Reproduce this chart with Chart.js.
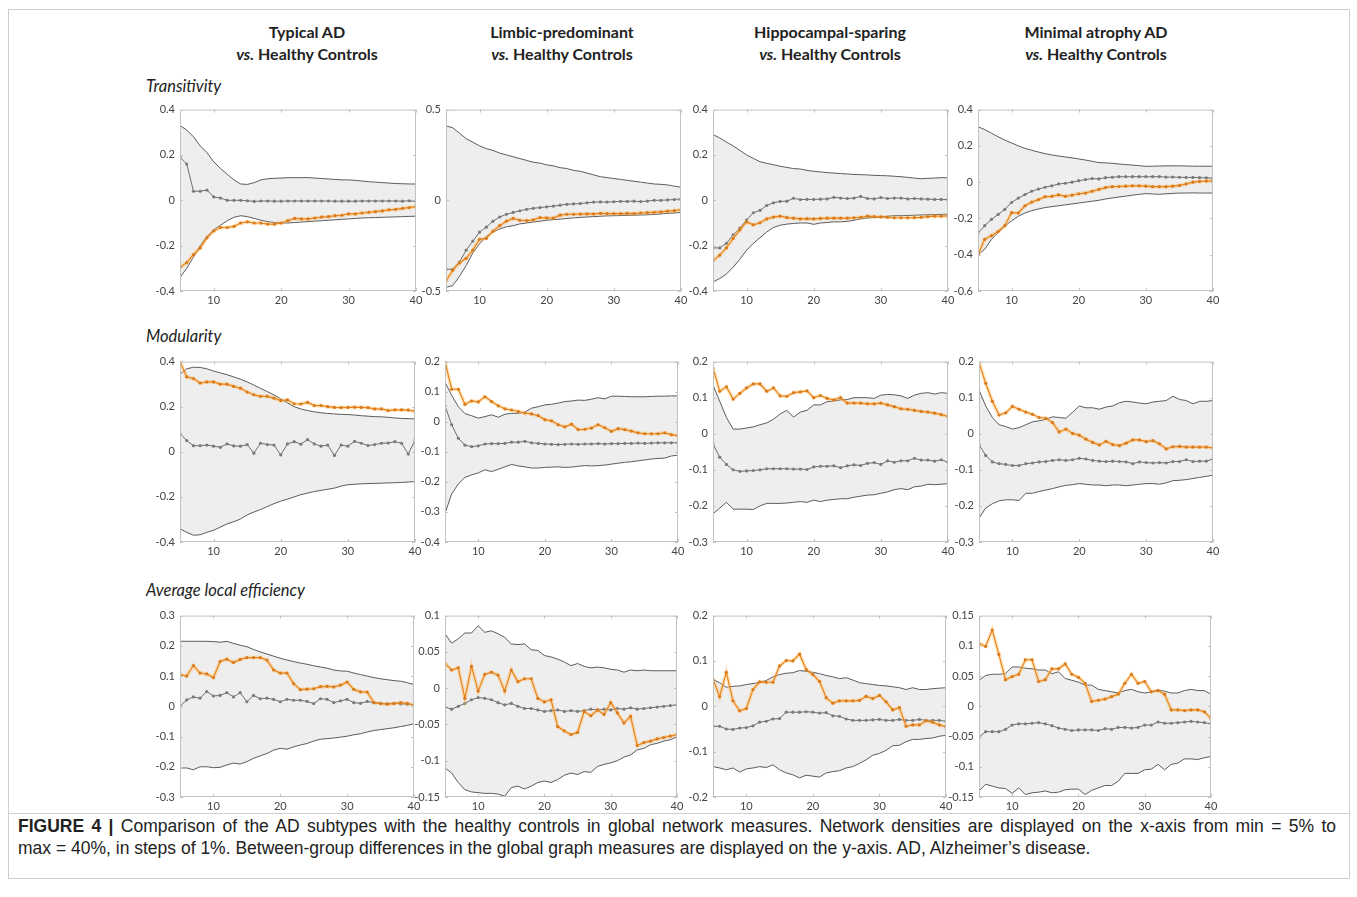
<!DOCTYPE html>
<html>
<head>
  <meta charset="UTF-8">
  <script src="https://cdn.jsdelivr.net/npm/chart.js@4.4.1/dist/chart.umd.min.js"></script>
  <style>
    body { margin: 0; background: #fff; }
    #page { position: relative; width: 1357px; height: 897px; overflow: hidden; }
    #border { position: absolute; left: 8px; top: 9px; width: 1340px; height: 868px; border: 1px solid #cfcfcf; }
    #sep { position: absolute; left: 8px; top: 813px; width: 1342px; height: 1px; background: #cfcfcf; }
    .head { position: absolute; width: 260px; text-align: center; font-family: Lato, sans-serif; font-weight: bold;
      font-size: 16px; line-height: 22px; color: #222; }
    .row { position: absolute; left: 146px; font-family: Lato, sans-serif; font-style: italic; font-size: 16.5px; color: #222; }
    canvas { position: absolute; }
    .cap { position: absolute; left: 18px; font-family: "Liberation Sans", Arial, sans-serif;
      font-size: 17.5px; line-height: 22px; color: #222; white-space: nowrap; }
    #cap1 { top: 815px; width: 1318px; text-align: justify; text-align-last: justify; }
    #cap2 { top: 837px; }
  </style>
</head>
<body>
<div id="page">
  <div id="border"></div>
  <div id="sep"></div>
  <div class="head" style="left:177px; top:21px">Typical AD<br><i>vs.</i> Healthy Controls</div>
  <div class="head" style="left:432px; top:21px">Limbic-predominant<br><i>vs.</i> Healthy Controls</div>
  <div class="head" style="left:700px; top:21px">Hippocampal-sparing<br><i>vs.</i> Healthy Controls</div>
  <div class="head" style="left:966px; top:21px">Minimal atrophy AD<br><i>vs.</i> Healthy Controls</div>
  <div class="row" style="top:76px">Transitivity</div>
  <div class="row" style="top:326px">Modularity</div>
  <div class="row" style="top:580px">Average local efficiency</div>
  <div class="cap" id="cap1"><b>FIGURE 4 |</b> Comparison of the AD subtypes with the healthy controls in global network measures. Network densities are displayed on the x-axis from min = 5% to</div>
  <div class="cap" id="cap2">max = 40%, in steps of 1%. Between-group differences in the global graph measures are displayed on the y-axis. AD, Alzheimer’s disease.</div>
</div>
<script>
  // network density (%)
  const density = [5, 6, 7, 8, 9, 10, 11, 12, 13, 14, 15, 16, 17, 18, 19, 20, 21, 22,
    23, 24, 25, 26, 27, 28, 29, 30, 31, 32, 33, 34, 35, 36, 37, 38, 39, 40];

  // Transitivity
  const transTypicalHi = [0.33,0.31,0.28,0.24,0.21,0.17, 0.14,0.115,0.09,0.072,0.07,0.078, 0.09,0.095,0.097,0.098,0.10,0.10, 0.10,0.10,0.098,0.096,0.094,0.092, 0.09,0.09,0.088,0.085,0.082,0.08, 0.078,0.076,0.074,0.073,0.072,0.072];
  const transTypicalLo = [-0.34,-0.30,-0.25,-0.20,-0.16,-0.13, -0.11,-0.09,-0.075,-0.068,-0.072,-0.08, -0.088,-0.094,-0.098,-0.10,-0.10,-0.098, -0.096,-0.094,-0.092,-0.09,-0.088,-0.086, -0.084,-0.082,-0.08,-0.078,-0.077,-0.076, -0.075,-0.074,-0.073,-0.072,-0.071,-0.07];
  const transTypicalGrey = [0.19,0.16,0.04,0.04,0.045,0.015, 0.01,0.0,0.0,0.0,-0.002,-0.005, -0.003,-0.003,-0.004,-0.004,-0.003,-0.003, -0.003,-0.003,-0.003,-0.003,-0.003,-0.004, -0.004,-0.004,-0.004,-0.003,-0.003,-0.003, -0.003,-0.003,-0.003,-0.004,-0.002,-0.005];
  const transTypicalOrange = [-0.295,-0.275,-0.24,-0.21,-0.165,-0.135, -0.12,-0.12,-0.115,-0.10,-0.095,-0.10, -0.10,-0.105,-0.105,-0.10,-0.09,-0.08, -0.082,-0.082,-0.078,-0.074,-0.072,-0.068, -0.066,-0.06,-0.06,-0.056,-0.053,-0.05, -0.047,-0.042,-0.04,-0.036,-0.032,-0.028];

  const transLimbicHi = [0.41,0.40,0.37,0.34,0.32,0.30, 0.285,0.275,0.26,0.25,0.24,0.23, 0.22,0.21,0.205,0.195,0.19,0.18, 0.175,0.165,0.16,0.15,0.14,0.13, 0.125,0.12,0.115,0.11,0.105,0.10, 0.095,0.09,0.088,0.085,0.078,0.072];
  const transLimbicLo = [-0.48,-0.47,-0.42,-0.36,-0.29,-0.24, -0.20,-0.175,-0.158,-0.146,-0.14,-0.13, -0.125,-0.12,-0.115,-0.11,-0.107,-0.104, -0.10,-0.097,-0.094,-0.092,-0.09,-0.088, -0.086,-0.085,-0.084,-0.083,-0.082,-0.081, -0.08,-0.078,-0.075,-0.072,-0.07,-0.067];
  const transLimbicGrey = [-0.38,-0.38,-0.34,-0.275,-0.225,-0.175, -0.148,-0.115,-0.092,-0.077,-0.067,-0.058, -0.05,-0.044,-0.04,-0.036,-0.032,-0.027, -0.022,-0.02,-0.018,-0.014,-0.01,-0.009, -0.01,-0.008,-0.006,-0.006,-0.005,-0.007, -0.004,0.0,0.0,0.002,0.004,0.008];
  const transLimbicOrange = [-0.445,-0.385,-0.345,-0.32,-0.275,-0.215, -0.21,-0.17,-0.14,-0.115,-0.10,-0.11, -0.112,-0.108,-0.095,-0.097,-0.098,-0.082, -0.077,-0.077,-0.076,-0.075,-0.075,-0.072, -0.073,-0.073,-0.074,-0.072,-0.073,-0.07, -0.068,-0.066,-0.064,-0.06,-0.057,-0.052];

  const transHippoHi = [0.29,0.275,0.257,0.24,0.22,0.20, 0.185,0.17,0.163,0.157,0.15,0.145, 0.14,0.138,0.132,0.128,0.125,0.122, 0.12,0.118,0.116,0.114,0.113,0.112, 0.11,0.109,0.108,0.106,0.104,0.101, 0.098,0.095,0.097,0.098,0.1,0.099];
  const transHippoLo = [-0.36,-0.345,-0.325,-0.295,-0.26,-0.22, -0.19,-0.165,-0.14,-0.12,-0.11,-0.105, -0.102,-0.10,-0.10,-0.106,-0.10,-0.098, -0.095,-0.095,-0.093,-0.088,-0.082,-0.078, -0.076,-0.075,-0.07,-0.068,-0.068,-0.067, -0.066,-0.065,-0.064,-0.063,-0.062,-0.062];
  const transHippoGrey = [-0.21,-0.21,-0.19,-0.152,-0.123,-0.087, -0.055,-0.044,-0.023,-0.011,-0.005,-0.004, 0.009,0.003,0.004,0.004,0.005,0.006, 0.013,0.01,0.008,0.01,0.017,0.008, 0.006,0.012,0.008,0.01,0.01,0.006, 0.008,0.006,0.005,0.004,0.004,0.003];
  const transHippoOrange = [-0.267,-0.242,-0.21,-0.168,-0.13,-0.095, -0.108,-0.099,-0.082,-0.074,-0.07,-0.076, -0.079,-0.082,-0.081,-0.082,-0.08,-0.079, -0.079,-0.079,-0.079,-0.077,-0.075,-0.07, -0.072,-0.073,-0.075,-0.077,-0.077,-0.077, -0.076,-0.075,-0.072,-0.07,-0.07,-0.069];

  const transMinimalHi = [0.306,0.29,0.27,0.25,0.232,0.216, 0.2,0.186,0.176,0.166,0.157,0.15, 0.144,0.139,0.134,0.128,0.122,0.115, 0.108,0.106,0.104,0.1,0.097,0.094, 0.091,0.087,0.088,0.089,0.09,0.09, 0.09,0.089,0.088,0.088,0.088,0.088];
  const transMinimalLo = [-0.40,-0.37,-0.315,-0.278,-0.242,-0.213, -0.188,-0.17,-0.157,-0.148,-0.14,-0.135, -0.13,-0.125,-0.12,-0.115,-0.11,-0.105, -0.1,-0.093,-0.087,-0.082,-0.077,-0.072, -0.067,-0.063,-0.065,-0.067,-0.064,-0.062, -0.06,-0.06,-0.059,-0.06,-0.06,-0.06];
  const transMinimalGrey = [-0.28,-0.24,-0.205,-0.178,-0.15,-0.112, -0.088,-0.068,-0.05,-0.038,-0.028,-0.02, -0.01,-0.006,0.0,0.008,0.014,0.02, 0.018,0.025,0.027,0.03,0.03,0.03, 0.03,0.03,0.03,0.03,0.028,0.028, 0.027,0.026,0.026,0.025,0.024,0.022];
  const transMinimalOrange = [-0.40,-0.315,-0.295,-0.272,-0.24,-0.168, -0.17,-0.13,-0.11,-0.096,-0.08,-0.078, -0.07,-0.078,-0.072,-0.064,-0.06,-0.05, -0.04,-0.03,-0.025,-0.024,-0.022,-0.02, -0.02,-0.022,-0.025,-0.025,-0.025,-0.022, -0.018,-0.01,0.0,0.004,0.006,0.008];

  // Modularity
  const modTypicalHi = [0.345,0.368,0.375,0.374,0.368,0.358, 0.35,0.342,0.332,0.322,0.31,0.296, 0.281,0.267,0.252,0.235,0.217,0.2, 0.19,0.183,0.177,0.173,0.17,0.168, 0.166,0.165,0.163,0.16,0.158,0.156, 0.155,0.153,0.15,0.148,0.147,0.146];
  const modTypicalLo = [-0.342,-0.357,-0.37,-0.368,-0.357,-0.348, -0.334,-0.32,-0.31,-0.298,-0.28,-0.267, -0.256,-0.243,-0.23,-0.219,-0.21,-0.2, -0.19,-0.183,-0.176,-0.171,-0.166,-0.161, -0.152,-0.146,-0.144,-0.142,-0.141,-0.14, -0.139,-0.138,-0.137,-0.136,-0.134,-0.132];
  const modTypicalGrey = [0.081,0.05,0.027,0.027,0.03,0.025, 0.02,0.035,0.026,0.025,0.032,-0.006, 0.038,0.032,0.03,-0.014,0.035,0.045, 0.034,0.054,0.035,0.025,0.03,-0.016, 0.03,0.025,0.046,0.038,0.028,0.032, 0.038,0.039,0.045,0.038,-0.01,0.052];
  const modTypicalOrange = [0.40,0.332,0.325,0.305,0.31,0.31, 0.3,0.3,0.29,0.282,0.265,0.253, 0.246,0.246,0.238,0.227,0.23,0.213, 0.212,0.219,0.205,0.205,0.2,0.197, 0.196,0.197,0.198,0.197,0.196,0.19, 0.19,0.183,0.186,0.186,0.185,0.18];

  const modLimbicHi = [0.132,0.088,0.05,0.027,0.02,0.012, 0.017,0.023,0.015,0.025,0.028,0.028, 0.032,0.045,0.05,0.056,0.058,0.062, 0.067,0.069,0.072,0.071,0.075,0.08, 0.076,0.085,0.085,0.084,0.083,0.083, 0.083,0.084,0.085,0.085,0.086,0.086];
  const modLimbicLo = [-0.305,-0.24,-0.207,-0.185,-0.177,-0.17, -0.16,-0.166,-0.158,-0.15,-0.142,-0.147, -0.15,-0.154,-0.154,-0.152,-0.151,-0.15, -0.152,-0.151,-0.148,-0.146,-0.147,-0.146, -0.144,-0.141,-0.138,-0.135,-0.133,-0.13, -0.127,-0.124,-0.122,-0.121,-0.114,-0.111];
  const modLimbicGrey = [0.053,-0.01,-0.055,-0.078,-0.083,-0.08, -0.074,-0.073,-0.073,-0.072,-0.068,-0.068, -0.065,-0.07,-0.072,-0.074,-0.075,-0.076, -0.075,-0.074,-0.075,-0.074,-0.074,-0.073, -0.074,-0.073,-0.073,-0.072,-0.072,-0.071, -0.072,-0.071,-0.07,-0.07,-0.07,-0.07];
  const modLimbicOrange = [0.20,0.108,0.108,0.058,0.069,0.066, 0.083,0.067,0.053,0.043,0.039,0.034, 0.029,0.026,0.02,0.007,0.003,-0.01, -0.017,-0.008,-0.026,-0.025,-0.021,-0.01, -0.02,-0.032,-0.023,-0.026,-0.031,-0.037, -0.04,-0.04,-0.04,-0.037,-0.043,-0.046];

  const modHippoHi = [0.135,0.09,0.045,0.013,0.013,0.016, 0.019,0.025,0.03,0.04,0.055,0.065, 0.046,0.06,0.065,0.08,0.08,0.089, 0.091,0.094,0.095,0.1,0.1,0.1, 0.098,0.107,0.109,0.108,0.105,0.098, 0.107,0.112,0.114,0.11,0.114,0.112];
  const modHippoLo = [-0.222,-0.206,-0.19,-0.209,-0.209,-0.209, -0.21,-0.2,-0.193,-0.193,-0.193,-0.192, -0.19,-0.188,-0.19,-0.184,-0.188,-0.184, -0.182,-0.18,-0.18,-0.176,-0.173,-0.17, -0.169,-0.165,-0.161,-0.155,-0.152,-0.155, -0.147,-0.145,-0.14,-0.141,-0.14,-0.138];
  const modHippoGrey = [-0.028,-0.065,-0.085,-0.1,-0.104,-0.103, -0.102,-0.1,-0.097,-0.097,-0.097,-0.097, -0.098,-0.098,-0.099,-0.092,-0.09,-0.09, -0.089,-0.094,-0.089,-0.086,-0.088,-0.082, -0.08,-0.085,-0.075,-0.079,-0.075,-0.075, -0.068,-0.073,-0.073,-0.076,-0.072,-0.079];
  const modHippoOrange = [0.182,0.118,0.13,0.096,0.112,0.127, 0.138,0.138,0.118,0.127,0.105,0.104, 0.114,0.116,0.119,0.1,0.106,0.098, 0.094,0.1,0.085,0.085,0.085,0.083, 0.083,0.085,0.08,0.075,0.069,0.068, 0.065,0.062,0.06,0.057,0.053,0.048];

  const modMinimalHi = [0.122,0.077,0.045,0.025,0.02,0.013, 0.017,0.025,0.033,0.036,0.04,0.047, 0.045,0.043,0.06,0.077,0.072,0.072, 0.068,0.074,0.077,0.086,0.09,0.088, 0.085,0.083,0.088,0.09,0.092,0.104, 0.095,0.092,0.083,0.09,0.09,0.092];
  const modMinimalLo = [-0.234,-0.206,-0.194,-0.186,-0.183,-0.183, -0.185,-0.165,-0.165,-0.16,-0.156,-0.152, -0.147,-0.143,-0.141,-0.138,-0.14,-0.142, -0.142,-0.144,-0.142,-0.142,-0.144,-0.142, -0.14,-0.138,-0.138,-0.14,-0.136,-0.13, -0.129,-0.127,-0.124,-0.121,-0.118,-0.115];
  const modMinimalGrey = [-0.03,-0.06,-0.078,-0.083,-0.085,-0.088, -0.088,-0.083,-0.081,-0.078,-0.077,-0.074, -0.072,-0.074,-0.072,-0.068,-0.07,-0.074, -0.076,-0.077,-0.076,-0.077,-0.078,-0.083, -0.078,-0.08,-0.081,-0.08,-0.081,-0.077, -0.077,-0.072,-0.077,-0.076,-0.076,-0.07];
  const modMinimalOrange = [0.198,0.14,0.09,0.052,0.058,0.076, 0.068,0.06,0.054,0.045,0.043,0.031, 0.005,0.013,0.001,-0.004,-0.015,-0.024, -0.031,-0.021,-0.03,-0.033,-0.026,-0.017, -0.017,-0.022,-0.019,-0.028,-0.042,-0.036, -0.035,-0.037,-0.037,-0.037,-0.037,-0.039];

  // Average local efficiency
  const effTypicalHi = [0.215,0.215,0.215,0.215,0.215,0.214, 0.212,0.215,0.208,0.202,0.197,0.188, 0.18,0.173,0.166,0.159,0.153,0.148, 0.143,0.139,0.134,0.13,0.126,0.12, 0.117,0.116,0.11,0.105,0.1,0.095, 0.091,0.088,0.085,0.083,0.078,0.072];
  const effTypicalLo = [-0.204,-0.204,-0.21,-0.2,-0.2,-0.203, -0.202,-0.194,-0.188,-0.191,-0.183,-0.172, -0.164,-0.156,-0.145,-0.139,-0.142,-0.134, -0.128,-0.123,-0.115,-0.109,-0.107,-0.105, -0.102,-0.099,-0.094,-0.091,-0.085,-0.08, -0.077,-0.074,-0.071,-0.067,-0.063,-0.058];
  const effTypicalGrey = [0.0,0.021,0.031,0.027,0.049,0.034, 0.036,0.045,0.031,0.045,0.015,0.036, 0.025,0.027,0.023,0.015,0.023,0.02, 0.02,0.016,0.009,0.025,0.023,0.012, 0.018,0.023,0.012,0.01,0.016,0.012, 0.01,0.008,0.01,0.008,0.007,0.005];
  const effTypicalOrange = [0.105,0.1,0.135,0.11,0.107,0.095, 0.148,0.156,0.145,0.155,0.161,0.161, 0.161,0.153,0.12,0.11,0.11,0.075, 0.055,0.057,0.058,0.065,0.066,0.064, 0.07,0.08,0.056,0.048,0.047,0.012, 0.009,0.007,0.009,0.012,0.01,0.004];

  const effLimbicHi = [0.075,0.062,0.068,0.076,0.076,0.086, 0.077,0.079,0.075,0.07,0.061,0.06, 0.061,0.053,0.052,0.045,0.043,0.04, 0.036,0.031,0.034,0.03,0.028,0.029, 0.028,0.026,0.025,0.022,0.025,0.024, 0.025,0.024,0.024,0.024,0.024,0.024];
  const effLimbicLo = [-0.11,-0.117,-0.13,-0.14,-0.143,-0.144, -0.145,-0.145,-0.146,-0.149,-0.137,-0.135, -0.139,-0.135,-0.13,-0.128,-0.13,-0.126, -0.12,-0.117,-0.119,-0.115,-0.116,-0.108, -0.105,-0.103,-0.1,-0.095,-0.092,-0.085, -0.083,-0.078,-0.076,-0.073,-0.071,-0.067];
  const effLimbicGrey = [-0.026,-0.029,-0.025,-0.021,-0.016,-0.013, -0.014,-0.016,-0.02,-0.023,-0.021,-0.025, -0.028,-0.028,-0.03,-0.032,-0.031,-0.03, -0.032,-0.031,-0.032,-0.031,-0.029,-0.03, -0.029,-0.03,-0.028,-0.029,-0.027,-0.029, -0.028,-0.027,-0.026,-0.025,-0.024,-0.023];
  const effLimbicOrange = [0.034,0.025,0.028,-0.014,0.03,-0.004, 0.019,0.022,0.018,-0.004,0.025,0.009, 0.013,0.013,-0.014,-0.019,-0.016,-0.053, -0.059,-0.064,-0.061,-0.032,-0.038,-0.03, -0.036,-0.02,-0.034,-0.048,-0.039,-0.079, -0.075,-0.073,-0.07,-0.068,-0.066,-0.064];

  const effHippoHi = [0.059,0.052,0.042,0.044,0.045,0.048, 0.05,0.053,0.057,0.065,0.07,0.073, 0.074,0.079,0.077,0.075,0.072,0.068, 0.065,0.061,0.063,0.058,0.052,0.05, 0.048,0.046,0.045,0.043,0.041,0.037, 0.041,0.037,0.037,0.039,0.04,0.041];
  const effHippoLo = [-0.133,-0.136,-0.14,-0.136,-0.145,-0.138, -0.136,-0.133,-0.135,-0.129,-0.14,-0.147, -0.151,-0.158,-0.152,-0.154,-0.156,-0.147, -0.144,-0.142,-0.136,-0.133,-0.126,-0.118, -0.108,-0.104,-0.097,-0.087,-0.086,-0.078, -0.073,-0.073,-0.071,-0.07,-0.066,-0.064];
  const effHippoGrey = [-0.044,-0.044,-0.05,-0.051,-0.048,-0.047, -0.043,-0.035,-0.033,-0.028,-0.027,-0.013, -0.013,-0.013,-0.012,-0.013,-0.015,-0.014, -0.021,-0.022,-0.028,-0.031,-0.031,-0.031, -0.03,-0.029,-0.031,-0.031,-0.029,-0.031, -0.031,-0.029,-0.031,-0.031,-0.031,-0.033];
  const effHippoOrange = [0.06,0.021,0.075,0.012,-0.01,-0.005, 0.037,0.054,0.053,0.053,0.089,0.101, 0.1,0.115,0.081,0.07,0.055,0.019, 0.007,0.012,0.012,0.012,0.013,0.022, 0.017,0.024,0.01,-0.008,-0.003,-0.044, -0.041,-0.041,-0.032,-0.035,-0.041,-0.045];

  const effMinimalHi = [0.043,0.051,0.053,0.053,0.054,0.065, 0.065,0.063,0.062,0.06,0.06,0.054, 0.057,0.046,0.043,0.04,0.035,0.035, 0.028,0.026,0.024,0.022,0.026,0.028, 0.024,0.022,0.024,0.027,0.025,0.022, 0.022,0.026,0.028,0.026,0.026,0.02];
  const effMinimalLo = [-0.14,-0.129,-0.132,-0.135,-0.136,-0.144, -0.135,-0.146,-0.143,-0.142,-0.14,-0.143, -0.142,-0.138,-0.137,-0.137,-0.146,-0.139, -0.135,-0.131,-0.131,-0.124,-0.111,-0.111, -0.111,-0.105,-0.104,-0.096,-0.105,-0.096, -0.094,-0.087,-0.087,-0.088,-0.085,-0.083];
  const effMinimalGrey = [-0.051,-0.042,-0.042,-0.042,-0.038,-0.031, -0.029,-0.029,-0.028,-0.027,-0.029,-0.032, -0.036,-0.038,-0.04,-0.039,-0.039,-0.039, -0.04,-0.037,-0.038,-0.035,-0.035,-0.036, -0.035,-0.031,-0.031,-0.026,-0.028,-0.028, -0.027,-0.026,-0.025,-0.026,-0.027,-0.029];
  const effMinimalOrange = [0.104,0.099,0.126,0.086,0.044,0.049, 0.053,0.077,0.077,0.041,0.044,0.062, 0.062,0.07,0.053,0.048,0.038,0.008, 0.01,0.012,0.016,0.02,0.038,0.053, 0.038,0.041,0.024,0.026,0.02,-0.006, -0.006,-0.007,-0.006,-0.006,-0.009,-0.02];

  // panel layout: plot area left/top/width/height, y axis range
  const panels = [
    { x: 180, y: 106, w: 236, h: 185, min: -0.4, max: 0.4, step: 0.2, hi: transTypicalHi, lo: transTypicalLo, grey: transTypicalGrey, orange: transTypicalOrange },
    { x: 446, y: 106, w: 235, h: 185, min: -0.5, max: 0.5, step: 0.5, hi: transLimbicHi, lo: transLimbicLo, grey: transLimbicGrey, orange: transLimbicOrange },
    { x: 713, y: 106, w: 235, h: 185, min: -0.4, max: 0.4, step: 0.2, hi: transHippoHi, lo: transHippoLo, grey: transHippoGrey, orange: transHippoOrange },
    { x: 978, y: 106, w: 235, h: 185, min: -0.6, max: 0.4, step: 0.2, hi: transMinimalHi, lo: transMinimalLo, grey: transMinimalGrey, orange: transMinimalOrange },
    { x: 180, y: 358, w: 235, h: 184, min: -0.4, max: 0.4, step: 0.2, hi: modTypicalHi, lo: modTypicalLo, grey: modTypicalGrey, orange: modTypicalOrange },
    { x: 445, y: 358, w: 233, h: 184, min: -0.4, max: 0.2, step: 0.1, hi: modLimbicHi, lo: modLimbicLo, grey: modLimbicGrey, orange: modLimbicOrange },
    { x: 713, y: 358, w: 235, h: 184, min: -0.3, max: 0.2, step: 0.1, hi: modHippoHi, lo: modHippoLo, grey: modHippoGrey, orange: modHippoOrange },
    { x: 979, y: 358, w: 234, h: 184, min: -0.3, max: 0.2, step: 0.1, hi: modMinimalHi, lo: modMinimalLo, grey: modMinimalGrey, orange: modMinimalOrange },
    { x: 180, y: 612, w: 234, h: 185, min: -0.3, max: 0.3, step: 0.1, hi: effTypicalHi, lo: effTypicalLo, grey: effTypicalGrey, orange: effTypicalOrange },
    { x: 445, y: 612, w: 232, h: 185, min: -0.15, max: 0.1, step: 0.05, hi: effLimbicHi, lo: effLimbicLo, grey: effLimbicGrey, orange: effLimbicOrange },
    { x: 713, y: 612, w: 233, h: 185, min: -0.2, max: 0.2, step: 0.1, hi: effHippoHi, lo: effHippoLo, grey: effHippoGrey, orange: effHippoOrange },
    { x: 979, y: 612, w: 232, h: 185, min: -0.15, max: 0.15, step: 0.05, hi: effMinimalHi, lo: effMinimalLo, grey: effMinimalGrey, orange: effMinimalOrange }
  ];

  const AXIS_W = 36, AXIS_H = 18, PAD_T = 8, PAD_R = 14;

  // matlab style box with small inward ticks
  const frame = {
    id: 'frame',
    afterDatasetsDraw(chart) {
      const { ctx, chartArea: a, scales: { x, y } } = chart;
      ctx.save();
      ctx.strokeStyle = '#c2c2c2';
      ctx.lineWidth = 1;
      ctx.strokeRect(a.left + 0.5, a.top + 0.5, a.width - 1, a.height - 1);
      ctx.beginPath();
      x.ticks.forEach(t => {
        const px = Math.round(x.getPixelForValue(t.value)) + 0.5;
        ctx.moveTo(px, a.bottom); ctx.lineTo(px, a.bottom - 3);
        ctx.moveTo(px, a.top); ctx.lineTo(px, a.top + 3);
      });
      y.ticks.forEach(t => {
        const py = Math.round(y.getPixelForValue(t.value)) + 0.5;
        ctx.moveTo(a.left, py); ctx.lineTo(a.left + 3, py);
        ctx.moveTo(a.right, py); ctx.lineTo(a.right - 3, py);
      });
      ctx.stroke();
      ctx.restore();
    }
  };

  const tickFont = { family: 'Lato, sans-serif', size: 11 };
  const page = document.getElementById('page');

  panels.forEach(p => {
    const cv = document.createElement('canvas');
    cv.width = AXIS_W + p.w + PAD_R;
    cv.height = PAD_T + p.h + AXIS_H;
    cv.style.left = (p.x - AXIS_W) + 'px';
    cv.style.top = (p.y - PAD_T) + 'px';
    page.appendChild(cv);

    new Chart(cv, {
      type: 'line',
      data: {
        labels: density,
        datasets: [
          { data: p.orange, borderColor: '#e8841a', borderWidth: 1.2, pointRadius: 1.6, pointBackgroundColor: '#d97a1c',
            pointBorderWidth: 0, fill: false, tension: 0 },
          { data: p.orange, borderColor: 'rgba(255,186,90,0.35)', borderWidth: 4, pointRadius: 0, fill: false, tension: 0 },
          { data: p.grey, borderColor: '#6e6e6e', borderWidth: 1, pointRadius: 1.6, pointBackgroundColor: '#7a7a7a',
            pointBorderWidth: 0, fill: false, tension: 0 },
          { data: p.hi, borderColor: '#5c5c5c', borderWidth: 1, pointRadius: 0, fill: '+1', backgroundColor: '#eeeeee', tension: 0 },
          { data: p.lo, borderColor: '#5c5c5c', borderWidth: 1, pointRadius: 0, fill: false, tension: 0 }
        ]
      },
      options: {
        responsive: false,
        animation: false,
        events: [],
        layout: { padding: { top: PAD_T, right: PAD_R, left: 0, bottom: 0 } },
        plugins: {
          legend: { display: false },
          tooltip: { enabled: false },
          filler: { drawTime: 'beforeDatasetsDraw' }
        },
        scales: {
          x: {
            type: 'linear', min: 5, max: 40,
            grid: { display: false, drawTicks: false }, border: { display: false },
            ticks: { stepSize: 10, includeBounds: false, autoSkip: false, maxRotation: 0, padding: 3,
              color: '#444', font: tickFont },
            afterFit(s) { s.height = AXIS_H; }
          },
          y: {
            min: p.min, max: p.max,
            grid: { display: false, drawTicks: false }, border: { display: false },
            ticks: { stepSize: p.step, padding: 5, color: '#444', font: tickFont,
              callback: v => String(Math.round(v * 1000) / 1000 || 0) },
            afterFit(s) { s.width = AXIS_W; }
          }
        }
      },
      plugins: [frame]
    });
  });
</script>
</body>
</html>
